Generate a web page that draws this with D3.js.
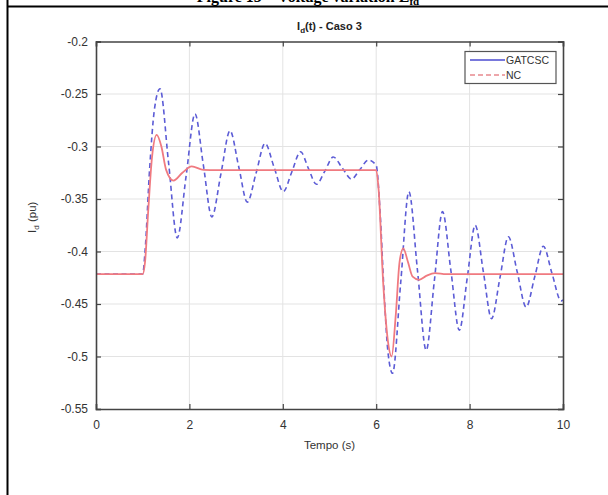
<!DOCTYPE html>
<html>
<head>
<meta charset="utf-8">
<script src="https://cdn.jsdelivr.net/npm/d3@7"></script>
<style>
body { margin: 0; background: #fff; }
svg { display: block; }
.axis text { font-family: "Liberation Sans", Arial, sans-serif; font-size: 12px; fill: #333; }
</style>
</head>
<body>
<script>
var width = 608, height = 495;
var margin = {top: 41.5, right: 45, bottom: 86, left: 96};
var w = width - margin.left - margin.right,
    h = height - margin.top - margin.bottom;

// tick labels
var xTicks = [0, 2, 4, 6, 8, 10];
var yTicks = [-0.55, -0.5, -0.45, -0.4, -0.35, -0.3, -0.25, -0.2];

// series: [time (s), Id (pu)]
var blueSeries = [
  [0, -0.4215], [1.0, -0.4215], [1.05, -0.40], [1.15, -0.32], [1.25, -0.265], [1.37, -0.245],
  [1.555, -0.316], [1.74, -0.387], [1.93, -0.328], [2.12, -0.269], [2.30, -0.318], [2.48, -0.367],
  [2.675, -0.326], [2.87, -0.285], [3.055, -0.319], [3.24, -0.353], [3.43, -0.325], [3.62, -0.297],
  [3.815, -0.320], [4.01, -0.343], [4.195, -0.324], [4.38, -0.305], [4.55, -0.321], [4.72, -0.336],
  [4.90, -0.3235], [5.08, -0.310], [5.275, -0.3205], [5.47, -0.331], [5.65, -0.322], [5.83, -0.313],
  [6.0, -0.318], [6.08, -0.36], [6.17, -0.44], [6.25, -0.495], [6.35, -0.516], [6.525, -0.4295],
  [6.70, -0.343], [6.885, -0.4185], [7.07, -0.494], [7.245, -0.428], [7.42, -0.362], [7.60, -0.4185],
  [7.78, -0.475], [7.95, -0.425], [8.12, -0.375], [8.295, -0.4195], [8.47, -0.464], [8.65, -0.425],
  [8.83, -0.386], [9.02, -0.4195], [9.21, -0.453], [9.395, -0.424], [9.58, -0.395], [9.765, -0.421],
  [9.96, -0.447], [10.0, -0.446]
];
var redSeries = [
  [0, -0.4215], [1.0, -0.4215], [1.05, -0.41], [1.12, -0.36], [1.2, -0.31], [1.30, -0.289],
  [1.40, -0.30], [1.50, -0.322], [1.66, -0.3325], [1.85, -0.325], [2.05, -0.319], [2.3, -0.3222],
  [2.6, -0.3225], [6.0, -0.3225], [6.05, -0.34], [6.15, -0.43], [6.25, -0.485], [6.33, -0.500],
  [6.42, -0.46], [6.50, -0.41], [6.58, -0.397], [6.68, -0.41], [6.78, -0.424], [6.92, -0.427],
  [7.08, -0.423], [7.26, -0.4205], [7.5, -0.4215], [10, -0.4215]
];
var legendNames = ["GATCSC", "NC"];

var svg = d3.select("body").append("svg")
    .attr("width", width)
    .attr("height", height);

// page frame from the document
svg.append("line").attr("x1", 7.5).attr("x2", 7.5).attr("y1", 0).attr("y2", height)
    .attr("stroke", "#000").attr("stroke-width", 2);
svg.append("line").attr("x1", 7).attr("x2", width).attr("y1", 6.5).attr("y2", 6.5)
    .attr("stroke", "#000").attr("stroke-width", 2);
svg.append("text")
    .attr("x", 308).attr("y", 2)
    .attr("text-anchor", "middle")
    .style("font-family", "'Liberation Serif', 'Times New Roman', serif")
    .style("font-weight", "bold")
    .style("font-size", "16px")
    .text("Figure 13 – Voltage variation E")
  .append("tspan").attr("dy", 3).style("font-size", "11px").text("fd");

var x = d3.scaleLinear().domain([0, 10]).range([0, w]);
var y = d3.scaleLinear().domain([-0.55, -0.2]).range([h, 0]);

var g = svg.append("g")
    .attr("transform", "translate(" + margin.left + "," + margin.top + ")");

// grid
g.append("g").selectAll("line").data(xTicks.slice(1, -1)).join("line")
    .attr("x1", x).attr("x2", x).attr("y1", 0).attr("y2", h)
    .attr("stroke", "#e3e3e3").attr("stroke-width", 1);
g.append("g").selectAll("line").data(yTicks.slice(1, -1)).join("line")
    .attr("y1", y).attr("y2", y).attr("x1", 0).attr("x2", w)
    .attr("stroke", "#e3e3e3").attr("stroke-width", 1);

var line = d3.line()
    .x(function(d) { return x(d[0]); })
    .y(function(d) { return y(d[1]); })
    .curve(d3.curveMonotoneX);

g.append("path").datum(blueSeries)
    .attr("d", line)
    .attr("fill", "none")
    .attr("stroke", "#5c5cd6")
    .attr("stroke-width", 1.6)
    .attr("stroke-dasharray", "5,3.5");
g.append("path").datum(redSeries)
    .attr("d", line)
    .attr("fill", "none")
    .attr("stroke", "#f07a80")
    .attr("stroke-width", 1.8);

// MATLAB writes a plain hyphen for the minus sign
function fmt(d) { return String(+d.toFixed(2)); }

// axes, MATLAB style box with inward ticks
var axisColor = "#444";
g.append("g").attr("class", "axis")
    .attr("transform", "translate(0," + h + ")")
    .call(d3.axisBottom(x).tickValues(xTicks).tickSize(-5).tickPadding(11).tickFormat(fmt));
g.append("g").attr("class", "axis")
    .call(d3.axisTop(x).tickValues(xTicks).tickSize(-5).tickFormat(""));
g.append("g").attr("class", "axis")
    .call(d3.axisLeft(y).tickValues(yTicks).tickSize(-5).tickPadding(8).tickFormat(fmt));
g.append("g").attr("class", "axis")
    .attr("transform", "translate(" + w + ",0)")
    .call(d3.axisRight(y).tickValues(yTicks).tickSize(-5).tickFormat(""));
g.selectAll(".axis path.domain").attr("stroke", axisColor).attr("stroke-width", 1.6);
g.selectAll(".axis line").attr("stroke", axisColor).attr("stroke-width", 1.2);

// title and labels
g.append("text")
    .attr("x", w / 2).attr("y", -12)
    .attr("text-anchor", "middle")
    .style("font-family", "'Liberation Sans', Arial, sans-serif")
    .style("font-weight", "bold")
    .style("font-size", "11px")
    .style("fill", "#222")
    .text("I")
  .append("tspan").attr("dy", 3).style("font-size", "8px").text("d")
  .select(function() { return this.parentNode; })
  .append("tspan").attr("dy", -3).text("(t) - Caso 3");

g.append("text")
    .attr("x", w / 2).attr("y", h + 40)
    .attr("text-anchor", "middle")
    .style("font-family", "'Liberation Sans', Arial, sans-serif")
    .style("font-size", "11.5px")
    .style("fill", "#333")
    .text("Tempo (s)");

var yl = g.append("text")
    .attr("transform", "translate(-60," + (h / 2 - 8) + ") rotate(-90)")
    .attr("text-anchor", "middle")
    .style("font-family", "'Liberation Sans', Arial, sans-serif")
    .style("font-size", "11.5px")
    .style("fill", "#333")
    .text("I");
yl.append("tspan").attr("dy", 3).style("font-size", "8px").text("d");
yl.append("tspan").attr("dy", -3).text(" (pu)");

// legend
var lg = g.append("g").attr("transform", "translate(" + (x(10) - 98) + ",10)");
lg.append("rect").attr("width", 91).attr("height", 32)
    .attr("fill", "#fff").attr("stroke", "#555").attr("stroke-width", 1.2);
var legendStyles = [
  {stroke: "#4b4bd0", dash: null},
  {stroke: "#e8898e", dash: "5,3"}
];
legendNames.forEach(function(name, i) {
  var ly = 8.5 + i * 15;
  lg.append("line").attr("x1", 5).attr("x2", 40).attr("y1", ly).attr("y2", ly)
      .style("stroke", legendStyles[i].stroke).style("stroke-width", 1.3)
      .style("stroke-dasharray", legendStyles[i].dash);
  lg.append("text").attr("x", 41).attr("y", ly + 4)
      .style("font-family", "'Liberation Sans', Arial, sans-serif")
      .style("font-size", "10.5px")
      .style("fill", "#333")
      .text(name);
});
</script>
</body>
</html>
